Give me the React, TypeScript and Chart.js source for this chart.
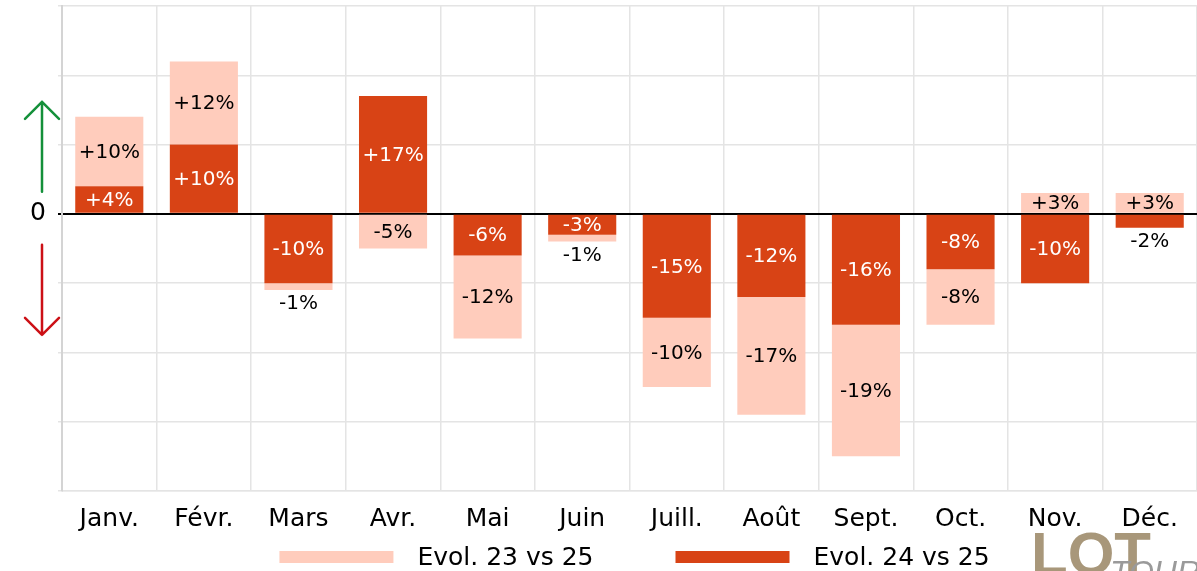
import React, { useEffect, useRef } from "react";
import { Chart, registerables } from "chart.js";

Chart.register(...registerables);

const months = ["Janv.", "Févr.", "Mars", "Avr.", "Mai", "Juin", "Juill.", "Août", "Sept.", "Oct.", "Nov.", "Déc."];
const evol24vs25 = [4, 10, -10, 17, -6, -3, -15, -12, -16, -8, -10, -2];
const evol23vs25 = [10, 12, -1, -5, -12, -1, -10, -17, -19, -8, 3, 3];
const yMin = -40;
const yMax = 30;
const yStep = 10;

const DARK = "#D84315";
const LIGHT = "#FFCCBC";
const FONT = "'DejaVu Sans', sans-serif";

const fmt = (v: number) => (v > 0 ? `+${v}%` : `${v}%`);

const labelPlugin = {
  id: "barLabels",
  afterDatasetsDraw(chart: any) {
    const ctx = chart.ctx;
    ctx.save();
    ctx.font = `20px ${FONT}`;
    ctx.textAlign = "center";
    ctx.textBaseline = "middle";
    const metas = chart.data.datasets.map((_: any, i: number) => chart.getDatasetMeta(i));
    metas.forEach((meta: any, di: number) => {
      const ds = chart.data.datasets[di];
      meta.data.forEach((el: any, j: number) => {
        const v = ds.data[j];
        const h = Math.abs(el.base - el.y);
        if (h >= 16) {
          ctx.fillStyle = di === 0 ? "#ffffff" : "#000000";
          ctx.fillText(fmt(v), el.x, (el.y + el.base) / 2 + 1);
        } else {
          let end = el.y;
          metas.forEach((m: any, k: number) => {
            const ov = chart.data.datasets[k].data[j];
            const oe = m.data[j];
            if (v < 0 && ov < 0) end = Math.max(end, oe.y);
            if (v > 0 && ov > 0) end = Math.min(end, oe.y);
          });
          ctx.fillStyle = "#000000";
          ctx.fillText(fmt(v), el.x, v < 0 ? end + 14 : end - 14);
        }
      });
    });
    ctx.restore();
  },
};

const decorPlugin = {
  id: "decor",
  afterDraw(chart: any) {
    const ctx = chart.ctx;
    const y0 = chart.scales.y.getPixelForValue(0);
    const ax = 42;
    ctx.save();
    ctx.lineWidth = 2.5;
    ctx.lineCap = "round";
    ctx.lineJoin = "round";
    ctx.strokeStyle = "#14903A";
    ctx.beginPath();
    ctx.moveTo(ax, y0 - 22);
    ctx.lineTo(ax, y0 - 112);
    ctx.moveTo(ax - 17, y0 - 95);
    ctx.lineTo(ax, y0 - 112);
    ctx.lineTo(ax + 17, y0 - 95);
    ctx.stroke();
    ctx.strokeStyle = "#CC1016";
    ctx.beginPath();
    ctx.moveTo(ax, y0 + 31);
    ctx.lineTo(ax, y0 + 121);
    ctx.moveTo(ax - 17, y0 + 104);
    ctx.lineTo(ax, y0 + 121);
    ctx.lineTo(ax + 17, y0 + 104);
    ctx.stroke();

    ctx.font = `25px ${FONT}`;
    ctx.textBaseline = "middle";
    ctx.textAlign = "left";
    const items = [
      { text: "Evol. 23 vs 25", color: LIGHT },
      { text: "Evol. 24 vs 25", color: DARK },
    ];
    const boxW = 114;
    const gapBT = 24;
    const gapItems = 82;
    const widths = items.map((it) => boxW + gapBT + ctx.measureText(it.text).width);
    const total = widths.reduce((a, b) => a + b, 0) + gapItems;
    const ca = chart.chartArea;
    let x = (ca.left + ca.right) / 2 + 5 - total / 2;
    const ly = 557;
    items.forEach((it, i) => {
      ctx.fillStyle = it.color;
      ctx.fillRect(x, ly - 6, boxW, 12);
      ctx.fillStyle = "#000";
      ctx.fillText(it.text, x + boxW + gapBT, ly + 1);
      x += widths[i] + gapItems;
    });

    ctx.fillStyle = "#A8977A";
    ctx.font = `bold 60px 'Liberation Sans Narrow', 'Liberation Sans', sans-serif`;
    ctx.textBaseline = "alphabetic";
    ctx.fillText("LOT", 1031, 574);
    ctx.fillStyle = "#9a9a9a";
    ctx.font = `italic 32px 'Liberation Sans', sans-serif`;
    ctx.fillText("TOURISME", 1110, 583);
    ctx.restore();
  },
};

export default function App() {
  const ref = useRef<HTMLCanvasElement | null>(null);
  useEffect(() => {
    if (!ref.current) return;
    const chart = new Chart(ref.current, {
      type: "bar",
      data: {
        labels: months,
        datasets: [
          {
            label: "Evol. 24 vs 25",
            data: evol24vs25,
            backgroundColor: DARK,
            borderWidth: 0,
            categoryPercentage: 1,
            barPercentage: 0.72,
          },
          {
            label: "Evol. 23 vs 25",
            data: evol23vs25,
            backgroundColor: LIGHT,
            borderWidth: 0,
            categoryPercentage: 1,
            barPercentage: 0.72,
          },
        ],
      },
      options: {
        responsive: false,
        animation: false,
        layout: { padding: { left: 0, right: 0, top: 6, bottom: 0 } },
        plugins: {
          legend: { display: false },
          tooltip: { enabled: false },
        },
        scales: {
          x: {
            stacked: true,
            offset: true,
            grid: { color: "#e4e4e4", lineWidth: 1.5, drawTicks: false, offset: true },
            border: { color: "#ececec", width: 1 },
            ticks: { color: "#000", font: { family: FONT, size: 25 }, padding: 13, maxRotation: 0, autoSkip: false },
            afterFit: (s: any) => {
              s.height = 80;
              s.paddingLeft = 0;
              s.paddingRight = 0;
            },
          },
          y: {
            stacked: true,
            min: yMin,
            max: yMax,
            ticks: {
              stepSize: yStep,
              color: "#000",
              font: { family: FONT, size: 25 },
              padding: 12,
              callback: (v: any) => (Number(v) === 0 ? "0" : ""),
            },
            grid: {
              color: (c: any) => (c.tick && c.tick.value === 0 ? "#000000" : "#e4e4e4"),
              lineWidth: (c: any) => (c.tick && c.tick.value === 0 ? 2 : 1.5),
              tickLength: 4,
            },
            border: { color: "#d4d4d4", width: 2 },
            afterFit: (s: any) => {
              s.width = 62;
              s.paddingTop = 0;
              s.paddingBottom = 0;
            },
          },
        },
      },
      plugins: [labelPlugin, decorPlugin],
    });
    return () => chart.destroy();
  }, []);
  return (
    <div style={{ position: "absolute", left: 0, top: 0, width: 1197, height: 571, background: "#fff" }}>
      <canvas ref={ref} width={1197} height={571} />
    </div>
  );
}
